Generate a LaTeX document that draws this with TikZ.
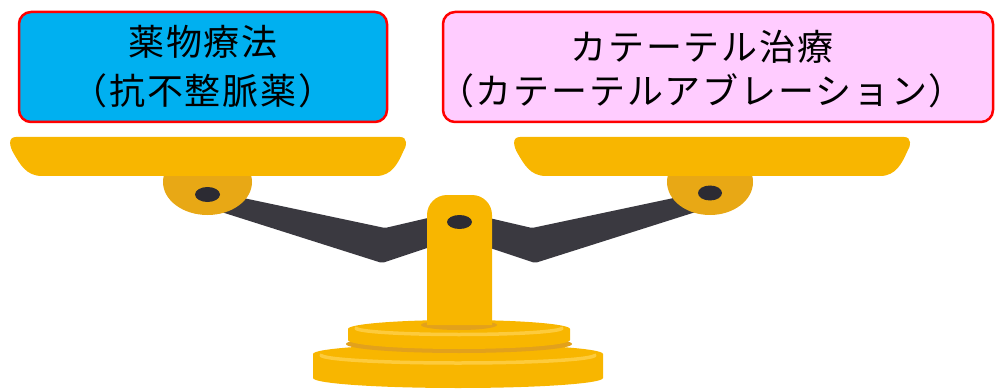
\documentclass[tikz,border=0pt]{standalone}
\usepackage{fontspec}
\newfontfamily\jpfont[LetterSpace=5]{Noto Sans CJK JP}
\definecolor{drugblue}{HTML}{00B0F0}
\definecolor{cathpink}{HTML}{FFCCFF}
\definecolor{boxred}{HTML}{FF0000}
\definecolor{scalegold}{HTML}{F8B600}
\definecolor{hubgold}{HTML}{E8A815}
\definecolor{beamgray}{HTML}{3A3940}
\definecolor{pindark}{HTML}{2C2B33}
\definecolor{shinegold}{HTML}{FDCB3C}
\definecolor{shadegold}{HTML}{E2A11C}
\begin{document}
\begin{tikzpicture}[x=1pt,y=-1pt,
  choicebox/.style={draw=boxred, line width=2.5pt, rounded corners=12pt,
    inner sep=0pt, outer sep=0pt},
  boxtext/.style={font=\jpfont\fontsize{36}{40}\selectfont, anchor=base,
    inner sep=0pt, text=black},
  gold/.style={fill=scalegold},
  hub/.style={fill=hubgold},
  beam/.style={fill=beamgray},
  pin/.style={fill=pindark},
  shine/.style={draw=shinegold, line width=3.5pt, line cap=round},
  shade/.style={fill=shadegold}]
\useasboundingbox (0,0) rectangle (995,390);
\clip (0,0) rectangle (995,390);

% the two treatment options
\node[choicebox, fill=drugblue, minimum width=368pt, minimum height=110pt]
  (drug) at (203,67) {};
\node[choicebox, fill=cathpink, minimum width=550pt, minimum height=110pt]
  (cath) at (718,67) {};
\node[boxtext] (drugA) at (203,55.5) {薬物療法};
\node[boxtext] (drugB) at (203,104.5) {（抗不整脈薬）};
\node[boxtext] (cathA) at (702,60.5) {カテーテル治療};
\node[boxtext] (cathB) at (701.5,104.5) {（カテーテルアブレーション）};

% balance beam, bent at both elbows
\fill[beam, rounded corners=2pt] (215,192) -- (385,228) -- (445,214)
  -- (445,242) -- (382,263) -- (215,210) -- cycle;
\fill[beam, rounded corners=2pt] (702,192) -- (532,228) -- (472,214)
  -- (472,242) -- (535,263) -- (702,210) -- cycle;

% hubs under the pans
\fill[hub] (207.5,182) ellipse [x radius=44.5, y radius=33];
\fill[hub] (710,182) ellipse [x radius=43, y radius=33];

% pans: flat slabs with rounded, tapering ends
\foreach \dx in {0,504} {
  \begin{scope}[shift={(\dx,0)}]
    \fill[gold] (16,137) -- (400,137)
      .. controls (408,137) and (407,146) .. (403,152)
      .. controls (398,163) and (392,176) .. (376,176)
      -- (42,176)
      .. controls (26,176) and (20,164) .. (14,154)
      .. controls (9,146) and (8,137) .. (16,137) -- cycle;
  \end{scope}
}

% pins of the pans
\fill[pin] (207.5,194.5) ellipse [x radius=12.5, y radius=7.5];
\fill[pin] (710,193) ellipse [x radius=12, y radius=7.5];

% stand: lower tier
\fill[gold] (313,354) -- (313,378)
  arc[start angle=180, end angle=0, x radius=145, y radius=10]
  -- (603,354)
  arc[start angle=0, end angle=-180, x radius=145, y radius=10] -- cycle;
\draw[shine] (321,355) arc[start angle=180, end angle=0, x radius=137, y radius=8];
\fill[shade] (459,344) ellipse [x radius=113, y radius=9];

% stand: upper tier
\fill[gold] (348,329) -- (348,340)
  arc[start angle=180, end angle=0, x radius=111, y radius=9]
  -- (570,329)
  arc[start angle=0, end angle=-180, x radius=111, y radius=9] -- cycle;
\draw[shine] (356,328) arc[start angle=180, end angle=0, x radius=103, y radius=6.5];
\fill[shade] (459,325) ellipse [x radius=38, y radius=5];

% pillar with its pivot
\fill[gold] (427,325) -- (427,215)
  arc[start angle=180, end angle=270, radius=20] -- (472,195)
  arc[start angle=270, end angle=360, radius=20] -- (492,325) -- cycle;
\fill[pin] (459.5,222) ellipse [x radius=12.5, y radius=7];
\end{tikzpicture}
\end{document}
